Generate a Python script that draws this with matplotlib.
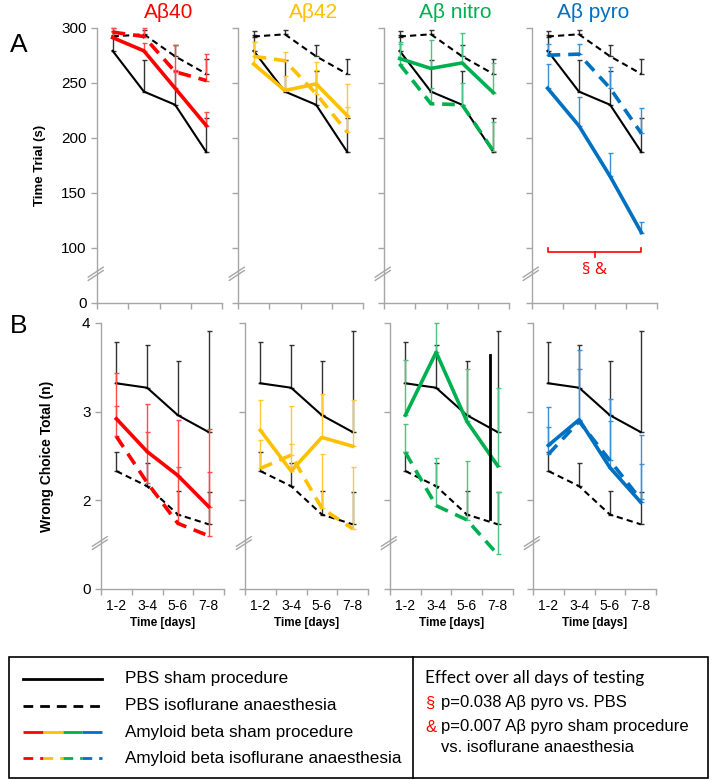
import matplotlib.pyplot as plt
import numpy as np

plt.rcParams['font.family'] = ['Liberation Sans', 'DejaVu Sans']

DAYS = ['1-2', '3-4', '5-6', '7-8']
GROUPS = ['Aβ40', 'Aβ42', 'Aβ nitro', 'Aβ pyro']
COLORS = ['#FF0000', '#FFC000', '#00B050', '#0070C0']
ERR_COLORS = ['#FF4a4a', '#FFC934', '#4CC47E', '#3C8FD6']

# A: time trial (s); *_top = upper end of error bar
trial_pbs_sham = [279, 242, 230, 187]
trial_pbs_sham_top = [293, 271, 261, 218]
trial_pbs_iso = [292, 294, 274, 258]
trial_pbs_iso_top = [297, 298, 284, 272]
trial_sham = [[291, 279, 245, 211], [267, 243, 249, 220], [272, 263, 268, 241], [245, 211, 165, 114]]
trial_sham_top = [[300, 286, 262, 223], [287, 256, 269, 249], [285, 289, 295, 268], [267, 237, 186, 124]]
trial_iso = [[296, 292, 260, 252], [274, 270, 240, 205], [267, 231, 230, 188], [275, 276, 245, 204]]
trial_iso_top = [[300, 300, 284, 276], [287, 278, 262, 228], [287, 245, 250, 214], [285, 285, 264, 227]]

# B: wrong choice total (n)
choice_pbs_sham = [3.32, 3.27, 2.96, 2.77]
choice_pbs_sham_top = [3.79, 3.75, 3.57, 3.91]
choice_pbs_iso = [2.33, 2.16, 1.84, 1.73]
choice_pbs_iso_top = [2.55, 2.42, 2.11, 2.09]
choice_sham = [[2.92, 2.55, 2.28, 1.93], [2.79, 2.33, 2.71, 2.61], [2.96, 3.67, 2.89, 2.39], [2.62, 2.91, 2.37, 1.98]]
choice_sham_top = [[3.44, 3.09, 2.91, 2.81], [3.13, 3.06, 3.20, 3.13], [3.58, 4.0, 3.48, 3.27], [3.05, 3.48, 3.14, 2.74]]
choice_iso = [[2.72, 2.20, 1.74, 1.60], [2.36, 2.51, 1.91, 1.68], [2.54, 1.94, 1.78, 1.39], [2.52, 2.89, 2.45, 2.01]]
choice_iso_top = [[3.06, 2.77, 2.38, 2.32], [2.68, 2.63, 2.52, 2.38], [2.86, 2.48, 2.44, 2.09], [2.83, 3.70, 2.90, 2.41]]
# stray vertical bar in the nitro panel
stray_x = 3.24
stray_y = [1.79, 3.64]

W, H = 712, 780
fig = plt.figure(figsize=(W / 100, H / 100), dpi=100)
GRAY = '#A6A6A6'


def px_axes(left, top, right, bottom):
    return fig.add_axes([left / W, 1 - bottom / H, (right - left) / W, (bottom - top) / H])


def style(ax, ylo, yhi, yticks, ylabels, brk, show_y, show_x):
    ax.set_xlim(0, 4)
    ax.set_ylim(ylo, yhi)
    for s in ['top', 'right']:
        ax.spines[s].set_visible(False)
    for s in ['left', 'bottom']:
        ax.spines[s].set_color(GRAY)
        ax.spines[s].set_linewidth(1)
    ax.set_xticks([0, 1, 2, 3, 4])
    ax.set_xticklabels([])
    ax.set_xticks([0.5, 1.5, 2.5, 3.5], minor=True)
    if show_x:
        ax.set_xticklabels(DAYS, minor=True, fontsize=10)
        ax.set_xlabel('Time [days]', fontsize=8.5, fontweight='bold', labelpad=3)
    ax.tick_params(axis='x', which='minor', length=0, pad=7)
    ax.tick_params(axis='both', which='major', direction='out', length=4, color=GRAY, width=1)
    ax.set_yticks(yticks)
    if show_y:
        ax.set_yticklabels(ylabels, fontsize=11)
    else:
        ax.set_yticklabels([])
    # axis break marks "//"
    tr = ax.get_yaxis_transform()
    span = yhi - ylo
    for dy in [0.0, span * 0.012]:
        ax.plot([-0.07, 0.05], [brk - span * 0.018 + dy, brk + span * 0.018 + dy],
                transform=tr, color=GRAY, lw=1, clip_on=False)


def draw(ax, x, ys, tops, color, ecolor, ls, lw, dashes=None, z=3):
    ys = np.array(ys)
    up = np.array(tops) - ys
    ax.errorbar(x, ys, yerr=[np.zeros_like(up), up], fmt='none', ecolor=ecolor,
                elinewidth=1, capsize=1.8, capthick=1, clip_on=False, zorder=z - 1)
    line, = ax.plot(x, ys, color=color, lw=lw, ls=ls, clip_on=False, zorder=z)
    if dashes is not None:
        line.set_dashes(dashes)


x = np.arange(len(DAYS)) + 0.5
top_lefts = [97, 238, 384, 532]
bot_lefts = [101, 245, 390, 533]

for i in range(4):
    # --- A row
    ax = px_axes(top_lefts[i], 27.7, top_lefts[i] + 125, 303)
    style(ax, 50, 300, [50, 100, 150, 200, 250, 300], ['0', '100', '150', '200', '250', '300'],
          75, i == 0, False)
    draw(ax, x, trial_pbs_sham, trial_pbs_sham_top, 'black', '#333333', '-', 1.5, z=4)
    draw(ax, x, trial_pbs_iso, trial_pbs_iso_top, 'black', '#333333', '--', 1.5, dashes=(3, 2), z=4)
    draw(ax, x, trial_sham[i], trial_sham_top[i], COLORS[i], ERR_COLORS[i], '-', 2.6, z=5)
    draw(ax, x, trial_iso[i], trial_iso_top[i], COLORS[i], ERR_COLORS[i], '--', 2.6, dashes=(3.5, 2.2), z=5)
    if i == 0:
        ax.set_ylabel('Time Trial (s)', fontsize=9.5, fontweight='bold', labelpad=11)
    if i == 3:
        ax.plot([x[0], x[0], x[-1], x[-1]], [100, 96, 96, 100], color='#FF0000', lw=1.2)
        ax.plot([2.0, 2.0], [96, 92], color='#FF0000', lw=1.2)
        ax.text(2.0, 80, '§ &', color='#FF0000', fontsize=12, ha='center', va='center',
                family=['Open Sans', 'DejaVu Sans'])

    # --- B row
    ax = px_axes(bot_lefts[i], 323, bot_lefts[i] + 123, 589)
    style(ax, 1, 4, [1, 2, 3, 4], ['0', '2', '3', '4'], 1.5, i == 0, True)
    draw(ax, x, choice_pbs_sham, choice_pbs_sham_top, 'black', '#333333', '-', 1.5, z=4)
    draw(ax, x, choice_pbs_iso, choice_pbs_iso_top, 'black', '#333333', '--', 1.5, dashes=(3, 2), z=4)
    draw(ax, x, choice_sham[i], choice_sham_top[i], COLORS[i], ERR_COLORS[i], '-', 2.6, z=5)
    draw(ax, x, choice_iso[i], choice_iso_top[i], COLORS[i], ERR_COLORS[i], '--', 2.6, dashes=(3.5, 2.2), z=5)
    if i == 0:
        ax.set_ylabel('Wrong Choice Total (n)', fontsize=10, fontweight='bold', labelpad=20)
    if i == 2:
        ax.plot([stray_x, stray_x], stray_y, color='black', lw=2, zorder=6)

title_x = [169, 314, 455, 593]
for i in range(4):
    fig.text(title_x[i] / W, 1 - 12 / H, GROUPS[i], color=COLORS[i], fontsize=15,
             ha='center', va='center')
fig.text(10 / W, 1 - 45 / H, 'A', fontsize=19, ha='left', va='center')
fig.text(10 / W, 1 - 326 / H, 'B', fontsize=19, ha='left', va='center')

# --- legend box in pixel coordinates
lg = fig.add_axes([0, 0, 1, 1])
lg.set_xlim(0, W)
lg.set_ylim(H, 0)
lg.axis('off')
lg.add_patch(plt.Rectangle((9, 657), 699, 121, fill=False, ec='black', lw=1.2))
lg.plot([413, 413], [657, 778], color='black', lw=1.2)

rows = [679, 706, 732, 758]
labels = ['PBS sham procedure', 'PBS isoflurane anaesthesia',
          'Amyloid beta sham procedure', 'Amyloid beta isoflurane anaesthesia']
lg.plot([23, 102], [rows[0]] * 2, color='black', lw=2)
l, = lg.plot([23, 102], [rows[1]] * 2, color='black', lw=2)
l.set_dashes((3.5, 2.5))
seg = np.linspace(23, 102, 5)
for k in range(4):
    lg.plot([seg[k], seg[k + 1]], [rows[2]] * 2, color=COLORS[k], lw=2, solid_capstyle='butt')
    l, = lg.plot([seg[k], seg[k + 1]], [rows[3]] * 2, color=COLORS[k], lw=2)
    l.set_dashes((3.5, 2.5))
for r, t in zip(rows, labels):
    lg.text(125, r, t, fontsize=12.3, va='center', ha='left')

lg.text(425, 678, 'Effect over all days of testing', fontsize=12.3, va='center',
        family=['Lato', 'DejaVu Sans'])
lg.text(425, 703, '§', color='#FF0000', fontsize=12, va='center')
lg.text(441, 703, 'p=0.038 Aβ pyro vs. PBS', fontsize=12, va='center')
lg.text(425, 727, '&', color='#FF0000', fontsize=12, va='center')
lg.text(441, 727, 'p=0.007 Aβ pyro sham procedure', fontsize=12, va='center')
lg.text(441, 748, 'vs. isoflurane anaesthesia', fontsize=12, va='center')

fig.savefig('out.png', dpi=100)
